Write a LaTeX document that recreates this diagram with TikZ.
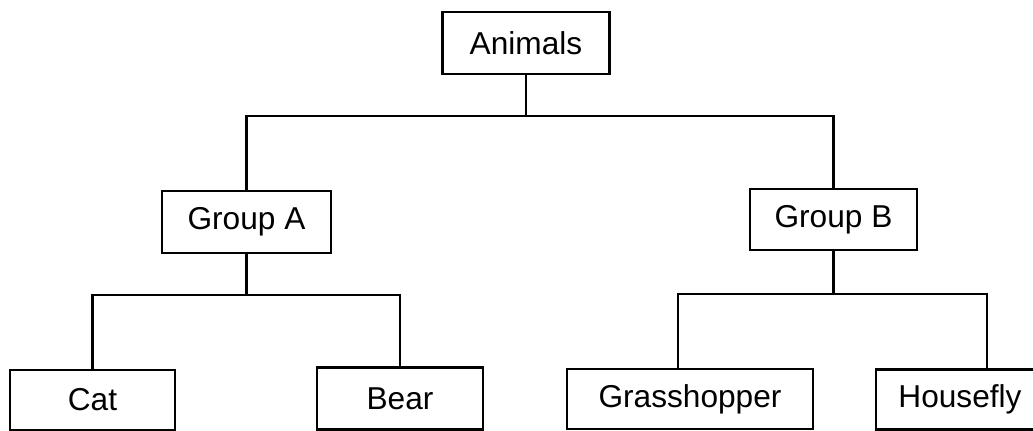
\documentclass[tikz,border=0pt]{standalone}
\usepackage{fontspec}
\setmainfont{Liberation Sans}
\usetikzlibrary{calc}

\begin{document}
\begin{tikzpicture}[x=0.025cm, y=-0.025cm,
		box/.style={draw, line width=1.6pt, minimum height=1.55cm, inner sep=0pt, font=\fontsize{22.5}{26}\selectfont},
		link/.style={line width=1.6pt}]
		
		% Fix the size of the picture
		\useasboundingbox (0,0) rectangle (1033,431);
		
		% Draw the nodes
		\node[box, minimum width=4.175cm] (animals) at (526,43) {Animals};
		\node[box, minimum width=4.225cm] (groupA) at (246.5,222) {Group A};
		\node[box, minimum width=4.175cm, minimum height=1.525cm] (groupB) at (833.5,219.5) {Group B};
		\node[box, minimum width=4.125cm, minimum height=1.5cm] (cat) at (92.5,400) {Cat};
		\node[box, minimum width=4.15cm] (bear) at (400,398.5) {Bear};
		\node[box, minimum width=6.15cm, minimum height=1.5cm] (grass) at (690,399) {Grasshopper};
		\node[box, minimum width=4.2cm, minimum height=1.5cm] (house) at (960,399.5) {Housefly};
		
		% Draw the branches
		\draw[link] (animals.south) -- ++(0,41) -| (groupA.north);
		\draw[link] (animals.south) -- ++(0,41) -| (groupB.north);
		\draw[link] (groupA.south) -- ++(0,41) -| (cat.north);
		\draw[link] (groupA.south) -- ++(0,41) -| (bear.north);
		\draw[link] (groupB.south) -- ++(0,43) -| ([xshift=-0.3cm]grass.north);
		\draw[link] (groupB.south) -- ++(0,43) -| ([xshift=0.675cm]house.north);
		
	\end{tikzpicture}
\end{document}
